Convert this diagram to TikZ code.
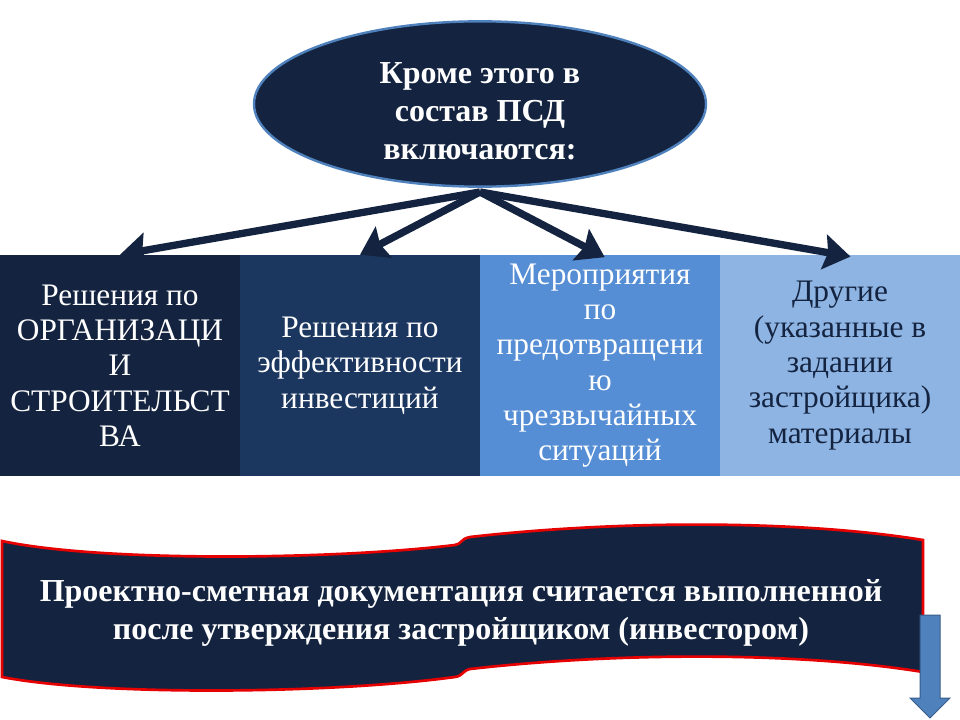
\documentclass[tikz,border=0pt]{standalone}
\usepackage{fontspec}
\setmainfont{Liberation Serif}
\usepackage{tikz}
\usetikzlibrary{shapes.geometric}
\usetikzlibrary{arrows.meta}

\definecolor{navy}{RGB}{20,36,64}
\definecolor{navymid}{RGB}{28,55,95}
\definecolor{bluemid}{RGB}{85,142,213}
\definecolor{bluelight}{RGB}{142,180,227}
\definecolor{rimblue}{RGB}{79,129,189}
\definecolor{arrowedge}{RGB}{56,93,138}
\definecolor{bannerred}{RGB}{230,0,0}

\begin{document}
\begin{tikzpicture}[x=0.75pt,y=0.75pt,yscale=-1,xscale=1,
  part/.style={rectangle, minimum width=180pt, minimum height=165.75pt, inner sep=0pt, align=center, font=\fontsize{23.5}{26.5}\selectfont},
  link/.style={line width=5.5pt, draw=navy, -{Stealth[length=20pt,width=26pt,inset=3pt]}}]
\useasboundingbox (0,0) rectangle (960,720);

%Shape: Ellipse
\node (ell) at (480,104) [ellipse, fill=navy, draw=rimblue, line width=1.8pt, minimum width=339pt, minimum height=124pt, inner sep=0pt] {};
% Text Node
\node (ell-text) at (480,111) [text=white, align=center, font=\fontsize{24}{28.5}\selectfont\bfseries] {Кроме этого в\\ состав ПСД\\ включаются:};

%Shape: Rectangle
\node (org) at (120,365.5) [part, fill=navy, text=white] {Решения по\\ ОРГАНИЗАЦИ\\ И\\ СТРОИТЕЛЬСТ\\ ВА};
%Shape: Rectangle
\node (eff) at (360,365.5) [part, fill=navymid, text=white] {Решения по\\ эффективности\\ инвестиций};
%Shape: Rectangle
\node (chs) at (600,365.5) [part, fill=bluemid, text=white] {Мероприятия\\ по\\ предотвращени\\ ю\\ чрезвычайных\\ ситуаций};
%Shape: Rectangle
\node (oth) at (840,365.5) [part, fill=bluelight, text=navy] {Другие\\ (указанные в\\ задании\\ застройщика)\\ материалы};

%Straight Lines
\coordinate (hub) at (480,192);
\draw [link] (hub) -- (org.north);
\draw [link] (hub) -- (eff.north);
\draw [link, shorten >=-4pt] (hub) -- (chs.north);
\draw [link, shorten >=-8pt] (hub) -- (oth.north);

%Shape: Wave
\draw [fill=navy, draw=bannerred, line width=2pt] (2,541) .. controls (100,562) and (330,560) .. (455,545) .. controls (462,544) and (460,539) .. (470,537) .. controls (620,520) and (800,520) .. (923,540) -- (923,672) .. controls (800,652) and (620,652) .. (470,669) .. controls (462,671) and (463,676) .. (455,677) .. controls (330,694) and (100,696) .. (2,677) -- cycle ;

% Text Node
\node (note) at (461,613) [text=white, align=center, font=\fontsize{24}{28.5}\selectfont\bfseries] {Проектно-сметная документация считается выполненной\\ после утверждения застройщиком (инвестором)};

%Shape: Down Arrow
\draw [fill=rimblue, draw=arrowedge, line width=0.75pt] (920,615) -- (940,615) -- (940,698) -- (950,698) -- (930,718) -- (910,698) -- (920,698) -- cycle ;

\end{tikzpicture}
\end{document}
